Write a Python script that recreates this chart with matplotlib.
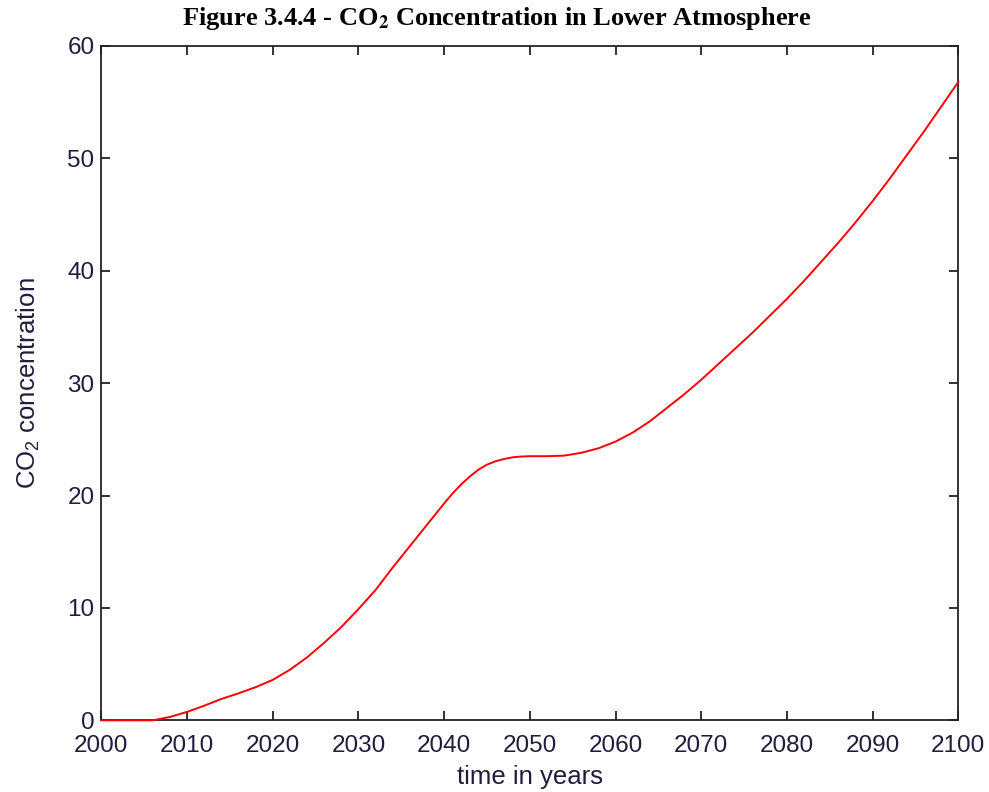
import matplotlib
matplotlib.use("Agg")
import matplotlib.pyplot as plt

plt.rcParams["mathtext.fontset"] = "custom"
plt.rcParams["mathtext.rm"] = "Liberation Sans"
plt.rcParams["mathtext.it"] = "Liberation Sans:italic"
plt.rcParams["mathtext.bf"] = "Liberation Sans:bold"

# Simulated CO2 concentration in the lower atmosphere
years = [2000, 2006, 2008, 2010, 2012, 2014, 2016, 2018, 2020, 2022, 2024,
         2026, 2028, 2030, 2032, 2034, 2036, 2038, 2039, 2040, 2041, 2042,
         2043, 2044, 2045, 2046, 2047, 2048, 2049, 2050, 2052, 2054, 2056,
         2058, 2060, 2062, 2064, 2066, 2068, 2070, 2072, 2074, 2076, 2078,
         2080, 2082, 2084, 2086, 2088, 2090, 2092, 2094, 2096, 2098, 2100]
co2 = [0.0, 0.0, 0.3, 0.75, 1.3, 1.9, 2.4, 2.95, 3.6, 4.5, 5.6,
       6.9, 8.3, 9.9, 11.6, 13.6, 15.5, 17.4, 18.35, 19.3, 20.2, 21.0,
       21.7, 22.3, 22.75, 23.05, 23.25, 23.4, 23.47, 23.5, 23.5, 23.55, 23.8,
       24.2, 24.8, 25.6, 26.6, 27.8, 29.0, 30.3, 31.7, 33.1, 34.5, 36.0,
       37.5, 39.1, 40.8, 42.5, 44.3, 46.2, 48.2, 50.3, 52.4, 54.6, 56.8]

x_ticks = list(range(2000, 2101, 10))
y_ticks = [0, 10, 20, 30, 40, 50, 60]

text_color = "#1e1e3c"

fig = plt.figure(figsize=(9.89, 7.92), dpi=100)
ax = fig.add_axes([0.1025, 0.0905, 0.8665, 0.8515])

ax.plot(years, co2, color="#ff0000", lw=1.4, clip_on=False, zorder=3)

ax.set_xlim(2000, 2100)
ax.set_ylim(0, 60)
ax.set_xticks(x_ticks)
ax.set_yticks(y_ticks)

for side in ax.spines.values():
    side.set_linewidth(1.3)
    side.set_color("#222222")

ax.tick_params(axis="both", direction="in", length=6.5, width=1.3,
               top=True, right=True, colors="#222222",
               labelcolor=text_color, labelsize=17.5)
ax.tick_params(axis="x", pad=10.5)
ax.tick_params(axis="y", pad=5)
for lbl in ax.get_xticklabels() + ax.get_yticklabels():
    lbl.set_fontfamily("Liberation Sans")

ax.set_xlabel("time in years", fontsize=18.5, family="Liberation Sans",
              color=text_color, labelpad=6)
ax.set_ylabel("CO$_2$ concentration", fontsize=18.5, family="Liberation Sans",
              color=text_color, labelpad=18)

fig.text(0.502, 0.977,
         r"Figure 3.4.4 - CO$_\mathbf{2}$ Concentration in Lower Atmosphere",
         ha="center", va="center", fontsize=19, fontweight="bold",
         family="Liberation Serif", math_fontfamily="stix", color="black")

fig.savefig("out.png", dpi=100)
